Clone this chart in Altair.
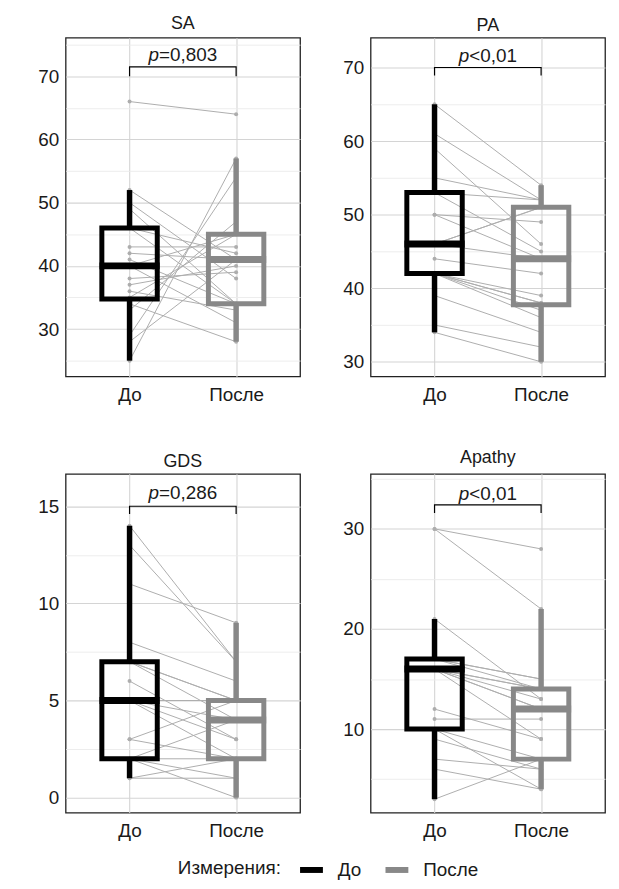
import altair as alt
import pandas as pd

phases = ["До", "После"]
panels = ["SA", "PA", "GDS", "Apathy"]

sa_before = [66, 52, 50, 49, 46, 46, 43, 42, 41, 40, 40, 38, 37, 36, 35, 34, 33, 29, 28, 25]
sa_after = [64, 41, 38, 34, 42, 34, 43, 41, 34, 45, 31, 39, 40, 33, 45, 28, 47, 54, 41, 57]

pa_before = [65, 61, 59, 55, 53, 53, 50, 50, 46, 46, 46, 44, 42, 42, 42, 42, 42, 39, 35, 34]
pa_after = [54, 52, 46, 52, 52, 45, 49, 44, 51, 51, 44, 42, 39, 38, 38, 37, 36, 34, 32, 30]

gds_before = [14, 13, 11, 8, 7, 7, 7, 6, 5, 5, 5, 5, 3, 3, 2, 2, 2, 2, 1, 1]
gds_after = [7, 7, 9, 6, 5, 5, 4, 3, 5, 4, 3, 2, 5, 2, 4, 2, 1, 0, 2, 1]

apathy_before = [30, 30, 21, 17, 17, 17, 16, 16, 16, 16, 16, 16, 12, 11, 10, 10, 9, 7, 6, 3]
apathy_after = [28, 22, 13, 15, 15, 14, 14, 14, 13, 12, 12, 9, 9, 11, 7, 4, 6, 6, 4, 7]

befores = [sa_before, pa_before, gds_before, apathy_before]
afters = [sa_after, pa_after, gds_after, apathy_after]

y_domains = [[22.5, 76.1], [28.0, 74.05], [-0.77, 16.67], [1.66, 35.5]]
major_ticks = [[30, 40, 50, 60, 70], [30, 40, 50, 60, 70], [0, 5, 10, 15], [10, 20, 30]]
minor_ticks = [[25, 35, 45, 55, 65, 75], [35, 45, 55, 65], [2.5, 7.5, 12.5], [5, 15, 25, 35]]

bracket_top = [71.5, 70.0, 15.0, 32.4]
bracket_tick = [70.0, 68.9, 14.6, 31.6]
p_text_y = [72.4, 70.7, 15.4, 32.9]
p_letter = "p"
p_rest = ["=0,803", "<0,01", "=0,286", "<0,01"]

legend_title = "Измерения:"

BOX_COLORS = ["#000000", "#888888"]
GRAY = "#adadad"
FONT = "Liberation Sans"
FS = 19

# approximate glyph widths (em) for centering the mixed-style p-value label
W = {"p": 0.556, "=": 0.584, "<": 0.584, "0": 0.556, "1": 0.556, "2": 0.556,
     "3": 0.556, "6": 0.556, "8": 0.556, ",": 0.278}

LEGEND = alt.Legend(
    orient="none", legendX=113, legendY=823, direction="horizontal",
    title=legend_title, titleOrient="left", titleFontSize=19, titleFontWeight="normal",
    titleFont=FONT, titleColor="#1a1a1a", labelFont=FONT, labelFontSize=19,
    labelColor="#1a1a1a", symbolType="stroke", symbolStrokeWidth=6, symbolSize=529,
    labelOffset=12, columnPadding=12, titlePadding=16,
)


def color_enc():
    return alt.Color("phase:N", scale=alt.Scale(domain=phases, range=BOX_COLORS), legend=LEGEND)


def panel(i):
    n = len(befores[i])
    df = pd.DataFrame({
        "id": list(range(n)) * 2,
        "phase": [phases[0]] * n + [phases[1]] * n,
        "pos": [1] * n + [2] * n,
        "value": befores[i] + afters[i],
    })
    majors = major_ticks[i]
    is_major = f"indexof({majors}, datum.value) >= 0"
    x_scale = alt.Scale(domain=[0.4, 2.6], nice=False, zero=False)
    y_scale = alt.Scale(domain=y_domains[i], nice=False, zero=False)
    yax = alt.Axis(
        values=sorted(majors + minor_ticks[i]), tickCount=40, title=None, ticks=False,
        domain=False, format="~g",
        labelExpr=f"{is_major} ? datum.label : ''", labelPadding=7,
        labelOverlap=False, labelFontSize=FS, labelColor="#1a1a1a", labelFont=FONT,
        gridColor={"condition": {"test": is_major, "value": "#d4d4d4"}, "value": "#ebebeb"},
        gridWidth={"condition": {"test": is_major, "value": 1.1}, "value": 0.9},
    )
    xax = alt.Axis(
        values=[1, 2], title=None, ticks=False, domain=False,
        labelExpr=f"datum.value == 1 ? '{phases[0]}' : '{phases[1]}'",
        labelPadding=9, labelFontSize=FS, labelColor="#1a1a1a", labelFont=FONT,
        gridColor="#d4d4d4", gridWidth=1.1,
    )
    base = alt.Chart(df)
    lines = base.mark_line(color=GRAY, strokeWidth=1).encode(
        x=alt.X("pos:Q", scale=x_scale, axis=xax),
        y=alt.Y("value:Q", scale=y_scale, axis=yax),
        detail="id:N",
    )
    pts = base.mark_circle(color=GRAY, size=16, opacity=1).encode(
        x="pos:Q", y="value:Q")

    stats = base.transform_joinaggregate(
        q1="q1(value)", q3="q3(value)", med="median(value)", groupby=["phase", "pos"]
    ).transform_filter(
        "datum.value >= datum.q1 - 1.5*(datum.q3-datum.q1) && datum.value <= datum.q3 + 1.5*(datum.q3-datum.q1)"
    ).transform_aggregate(
        lo="min(value)", hi="max(value)", q1="min(q1)", q3="min(q3)", med="min(med)",
        groupby=["phase", "pos"],
    ).transform_calculate(
        bx1="datum.pos - 0.26", bx2="datum.pos + 0.26",
        mx1="datum.pos - 0.282", mx2="datum.pos + 0.282",
    )
    box = stats.mark_rect(filled=False, strokeWidth=5).encode(
        x="bx1:Q", x2="bx2:Q", y="q1:Q", y2="q3:Q", color=color_enc(),
    )
    wh_hi = stats.mark_rule(strokeWidth=5.5).encode(
        x="pos:Q", y="q3:Q", y2="hi:Q", color=color_enc(),
    )
    wh_lo = stats.mark_rule(strokeWidth=5.5).encode(
        x="pos:Q", y="lo:Q", y2="q1:Q", color=color_enc(),
    )
    med = stats.mark_rule(strokeWidth=7).encode(
        x="mx1:Q", x2="mx2:Q", y="med:Q", color=color_enc(),
    )
    bdf = pd.DataFrame({
        "bx": [1, 1, 2, 2],
        "by": [bracket_tick[i], bracket_top[i], bracket_top[i], bracket_tick[i]],
        "o": [0, 1, 2, 3],
    })
    bracket = alt.Chart(bdf).mark_line(color="#000000", strokeWidth=1.2).encode(
        x="bx:Q", y="by:Q", order="o:Q")
    rest_w = sum(W.get(c, 0.556) for c in p_rest[i]) * FS
    p_w = W["p"] * FS
    dx = -(rest_w + p_w) / 2 + p_w
    tdf = pd.DataFrame({"tx": [1.5], "ty": [p_text_y[i]], "p": [p_letter], "rest": [p_rest[i]]})
    tp = alt.Chart(tdf).mark_text(
        align="right", baseline="alphabetic", fontSize=FS, fontStyle="italic",
        font=FONT, dx=dx, color="#1a1a1a").encode(x="tx:Q", y="ty:Q", text="p:N")
    tr = alt.Chart(tdf).mark_text(
        align="left", baseline="alphabetic", fontSize=FS,
        font=FONT, dx=dx, color="#1a1a1a").encode(x="tx:Q", y="ty:Q", text="rest:N")

    return alt.layer(lines, pts, box, wh_hi, wh_lo, med, bracket, tp, tr).properties(
        width=236, height=341,
        title=alt.TitleParams(panels[i], fontSize=18, fontWeight="normal", font=FONT,
                              color="#1a1a1a", offset=3),
    )


chart = alt.concat(
    *[panel(i) for i in range(4)], columns=2, spacing={"row": 43, "column": 41}
).properties(
    padding={"left": 29, "top": 3, "right": 5, "bottom": 5}
).configure_view(
    stroke="#222222", strokeWidth=1.3
)

chart.save("out.html", embed_options={"renderer": "svg", "actions": False})
